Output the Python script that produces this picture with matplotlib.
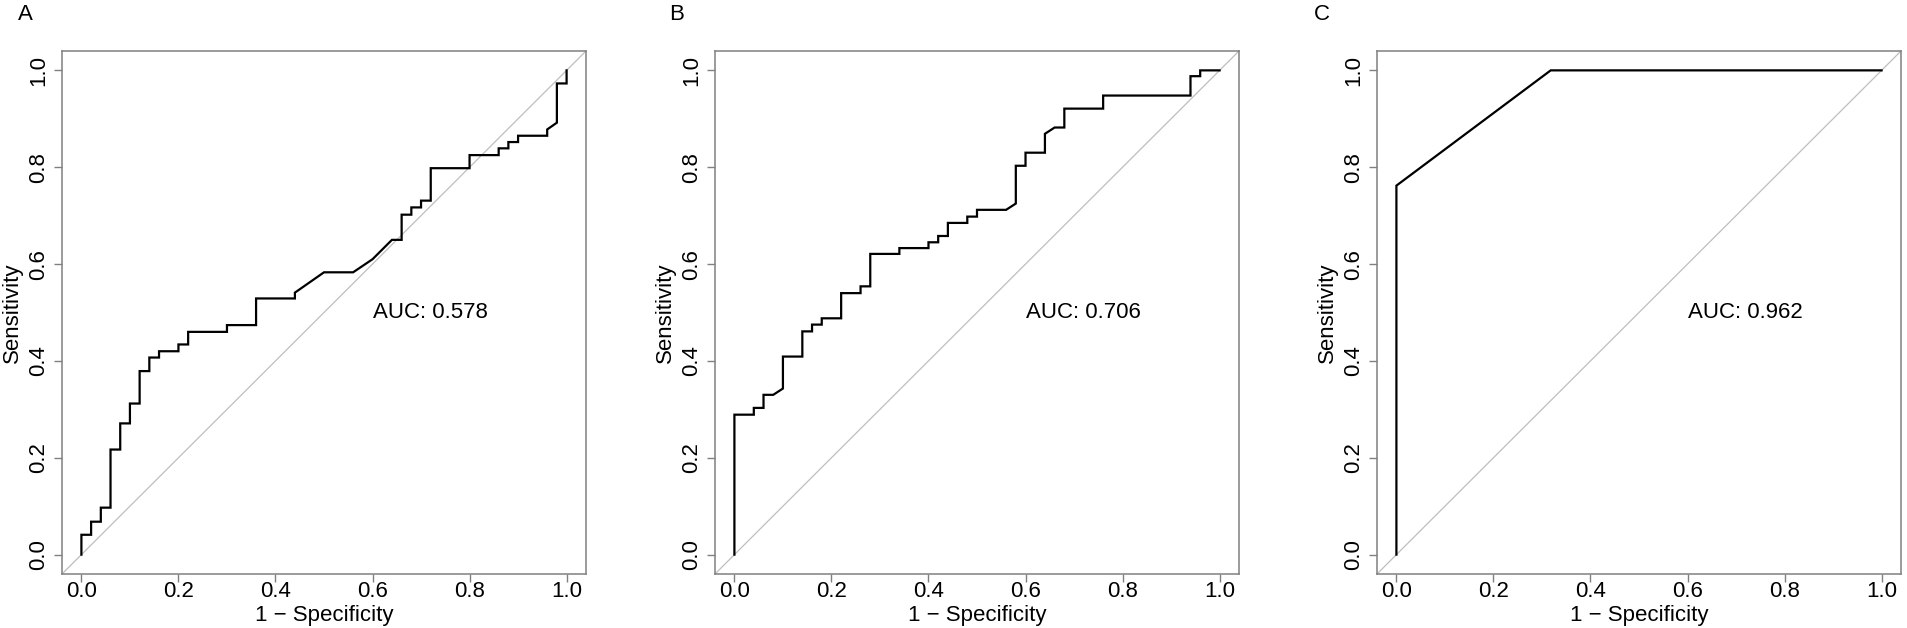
import numpy as np
import matplotlib
matplotlib.use('Agg')
import matplotlib.pyplot as plt

# ROC curves (x = 1 - specificity, y = sensitivity)
roc_a_fpr = [0, 0, 0.02, 0.02, 0.04, 0.04, 0.06, 0.06, 0.08, 0.08, 0.10, 0.10, 0.12, 0.12,
             0.14, 0.14, 0.16, 0.16, 0.20, 0.20, 0.22, 0.22, 0.30, 0.30, 0.36, 0.36, 0.44,
             0.44, 0.50, 0.56, 0.60, 0.64, 0.66, 0.66, 0.68, 0.68, 0.70, 0.70, 0.72, 0.72,
             0.80, 0.80, 0.86, 0.86, 0.88, 0.88, 0.90, 0.90, 0.96, 0.96, 0.98, 0.98, 1.0, 1.0]
roc_a_tpr = [0, 0.041, 0.041, 0.068, 0.068, 0.097, 0.097, 0.217, 0.217, 0.271, 0.271, 0.312,
             0.312, 0.379, 0.379, 0.407, 0.407, 0.420, 0.420, 0.434, 0.434, 0.460, 0.460,
             0.474, 0.474, 0.529, 0.529, 0.541, 0.583, 0.583, 0.610, 0.650, 0.650, 0.702,
             0.702, 0.717, 0.717, 0.731, 0.731, 0.798, 0.798, 0.825, 0.825, 0.839, 0.839,
             0.852, 0.852, 0.865, 0.865, 0.878, 0.892, 0.973, 0.973, 1.0]

roc_b_fpr = [0, 0, 0.04, 0.04, 0.06, 0.06, 0.08, 0.10, 0.10, 0.14, 0.14, 0.16, 0.16, 0.18,
             0.18, 0.22, 0.22, 0.26, 0.26, 0.28, 0.28, 0.34, 0.34, 0.40, 0.40, 0.42, 0.42,
             0.44, 0.44, 0.48, 0.48, 0.50, 0.50, 0.56, 0.58, 0.58, 0.60, 0.60, 0.64, 0.64,
             0.66, 0.68, 0.68, 0.76, 0.76, 0.94, 0.94, 0.96, 0.96, 1.0]
roc_b_tpr = [0, 0.289, 0.289, 0.303, 0.303, 0.330, 0.330, 0.343, 0.409, 0.409, 0.461, 0.461,
             0.475, 0.475, 0.488, 0.488, 0.540, 0.540, 0.554, 0.554, 0.621, 0.621, 0.633,
             0.633, 0.645, 0.645, 0.658, 0.658, 0.685, 0.685, 0.698, 0.698, 0.712, 0.712,
             0.725, 0.803, 0.803, 0.830, 0.830, 0.869, 0.882, 0.882, 0.921, 0.921, 0.948,
             0.948, 0.988, 0.988, 1.0, 1.0]

roc_c_fpr = [0, 0, 0.318, 1.0]
roc_c_tpr = [0, 0.762, 1.0, 1.0]

panel_labels = ['A', 'B', 'C']
auc_values = [0.578, 0.706, 0.962]
ticks = [0.0, 0.2, 0.4, 0.6, 0.8, 1.0]
tick_labels = ['0.0', '0.2', '0.4', '0.6', '0.8', '1.0']


def roc_panel(fig, rect, fpr, tpr, auc, letter, letter_x):
    ax = fig.add_axes(rect)
    ax.set_xlim(-0.04, 1.04)
    ax.set_ylim(-0.04, 1.04)
    # reference diagonal across the whole plot region
    ax.axline((0, 0), (1, 1), color='#bebebe', lw=0.9, zorder=1)
    ax.plot(fpr, tpr, color='black', lw=1.6, zorder=2, solid_joinstyle='miter')
    ax.text(0.72, 0.50, 'AUC: %.3f' % auc, ha='center', va='center', fontsize=16)
    ax.set_xticks(ticks, tick_labels)
    ax.set_yticks(ticks, tick_labels)
    ax.tick_params(axis='both', length=6, width=1.0, color='#808080', labelsize=16)
    ax.tick_params(axis='x', pad=-1)
    ax.tick_params(axis='y', pad=3)
    for t in ax.get_yticklabels():
        t.set_rotation(90)
        t.set_va('center')
    for s in ax.spines.values():
        s.set_color('#808080')
        s.set_linewidth(1.1)
    ax.set_xlabel('1 \u2212 Specificity', fontsize=16)
    ax.set_ylabel('Sensitivity', fontsize=16)
    ax.xaxis.set_label_coords(0.5, -0.079)
    ax.xaxis.label.set_va('center')
    ax.yaxis.set_label_coords(-0.095, 0.5)
    ax.yaxis.label.set_va('center')
    fig.text(letter_x, 1 - 14 / 628, letter, ha='center', va='center', fontsize=16)
    return ax


plt.rcParams['font.family'] = ['Liberation Sans', 'DejaVu Sans']
fig = plt.figure(figsize=(19.08, 6.28), dpi=100)
fig.set_facecolor('white')

W, H = 1908.0, 628.0
box_w = 524 / W
box_h = 523 / H
bottom = 1 - 574 / H
lefts = [62, 715, 1377]
letter_xs = [25, 677, 1322]
curves = [(roc_a_fpr, roc_a_tpr), (roc_b_fpr, roc_b_tpr), (roc_c_fpr, roc_c_tpr)]

for i in range(3):
    roc_panel(fig, [lefts[i] / W, bottom, box_w, box_h], curves[i][0], curves[i][1],
              auc_values[i], panel_labels[i], letter_xs[i] / W)

plt.savefig('out.png', dpi=100)
